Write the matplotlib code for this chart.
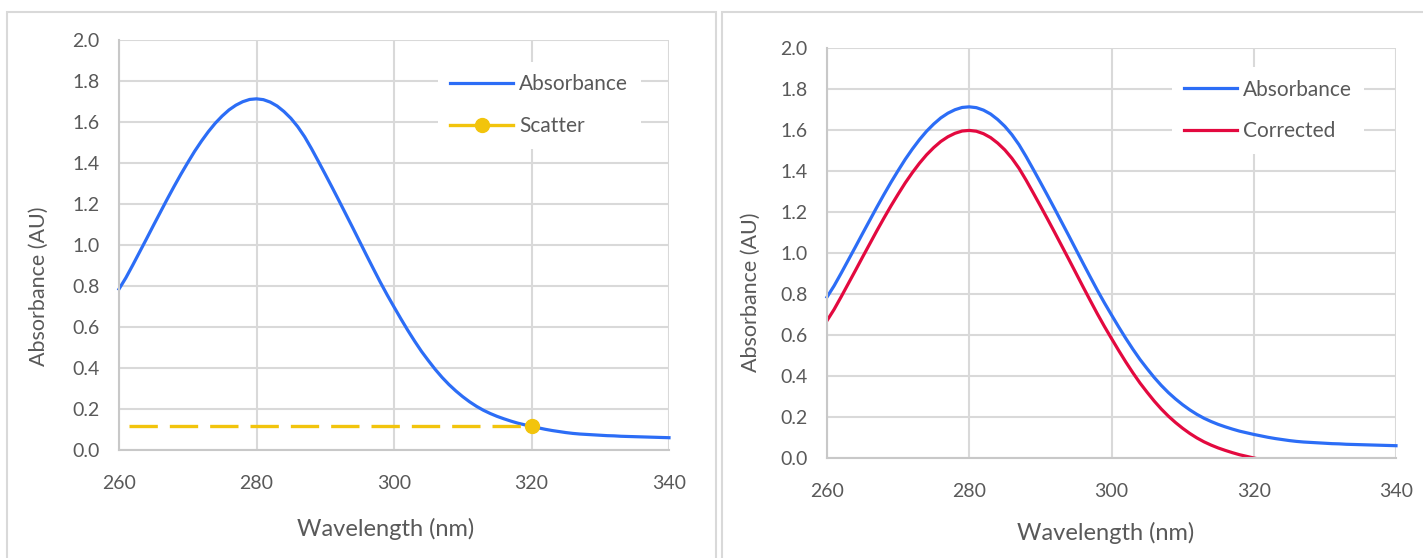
import numpy as np
import matplotlib.pyplot as plt
from matplotlib.patches import Rectangle

plt.rcParams['font.family'] = ['Lato', 'DejaVu Sans']

# values (1 nm steps)
wavelength = list(range(260, 341))
absorbance = [0.785, 0.840, 0.902, 0.966, 1.030, 1.095, 1.159, 1.223, 1.285, 1.345,
              1.402, 1.457, 1.507, 1.553, 1.594, 1.629, 1.659, 1.682, 1.699, 1.710,
              1.713, 1.709, 1.697, 1.678, 1.651, 1.618, 1.577, 1.528, 1.470, 1.408,
              1.345, 1.281, 1.216, 1.150, 1.084, 1.017, 0.950, 0.884, 0.819, 0.757,
              0.698, 0.640, 0.584, 0.531, 0.481, 0.436, 0.393, 0.354, 0.319, 0.288,
              0.260, 0.235, 0.213, 0.194, 0.178, 0.164, 0.152, 0.141, 0.131, 0.123,
              0.115, 0.108, 0.101, 0.095, 0.090, 0.085, 0.081, 0.078, 0.076, 0.074,
              0.072, 0.070, 0.069, 0.067, 0.066, 0.065, 0.064, 0.063, 0.062, 0.061,
              0.060]
corrected = [0.670, 0.725, 0.787, 0.851, 0.915, 0.980, 1.044, 1.108, 1.170, 1.230,
             1.287, 1.342, 1.392, 1.438, 1.479, 1.514, 1.544, 1.567, 1.584, 1.595,
             1.598, 1.594, 1.582, 1.563, 1.536, 1.503, 1.462, 1.413, 1.355, 1.293,
             1.230, 1.166, 1.101, 1.035, 0.969, 0.902, 0.835, 0.769, 0.704, 0.642,
             0.583, 0.525, 0.469, 0.416, 0.366, 0.321, 0.278, 0.239, 0.204, 0.173,
             0.145, 0.120, 0.098, 0.079, 0.063, 0.049, 0.037, 0.026, 0.016, 0.008,
             0.000, -0.007, -0.014, -0.020, -0.025, -0.030, -0.034, -0.037, -0.039, -0.041,
             -0.043, -0.045, -0.046, -0.048, -0.049, -0.050, -0.051, -0.052, -0.053, -0.054,
             -0.055]
scatter_x = [261.5, 320]
scatter_y = [0.115, 0.115]

xticks = [260, 280, 300, 320, 340]
yticks = [0.0, 0.2, 0.4, 0.6, 0.8, 1.0, 1.2, 1.4, 1.6, 1.8, 2.0]

BLUE = '#2C6DF6'
RED = '#E3093F'
YELLOW = '#F2C40C'
GRID = '#D9D9D9'
TXT = '#595959'

W, H = 1423, 558
fig = plt.figure(figsize=(W / 100, H / 100), dpi=100)

# panel borders
fig.add_artist(Rectangle((7 / W, -0.05), 709 / W, 1.05 - 12 / H, transform=fig.transFigure,
                         fill=False, edgecolor=GRID, linewidth=1.5))
fig.add_artist(Rectangle((722 / W, -0.05), 0.6, 1.05 - 12 / H, transform=fig.transFigure,
                         fill=False, edgecolor=GRID, linewidth=1.5))


def style(ax, xpad, ylab_xy, xlab_xy):
    ax.set_xlim(260, 340)
    ax.set_ylim(0, 2.0)
    ax.set_xticks(xticks)
    ax.set_yticks(yticks)
    ax.set_yticklabels([f'{v:.1f}' for v in yticks])
    ax.grid(True, color=GRID, linewidth=1.5)
    ax.set_axisbelow(True)
    for s in ['top', 'right']:
        ax.spines[s].set_visible(False)
    for s in ['left', 'bottom']:
        ax.spines[s].set_color('#C8C8C8')
        ax.spines[s].set_linewidth(1.5)
    ax.tick_params(length=0, labelsize=14, labelcolor=TXT)
    ax.tick_params(axis='x', pad=xpad)
    ax.tick_params(axis='y', pad=14)
    ax.set_ylabel('Absorbance (AU)', fontsize=15.5, color=TXT)
    ax.set_xlabel('Wavelength (nm)', fontsize=17, color=TXT)
    ax.yaxis.set_label_coords(*ylab_xy)
    ax.xaxis.set_label_coords(*xlab_xy)


leg_kw = dict(loc='upper left', fontsize=15, frameon=True, facecolor='white',
              edgecolor='none', framealpha=1, handletextpad=0.3, labelspacing=1.05,
              borderpad=0.6, fancybox=False, labelcolor=TXT)

# left chart
ax1 = fig.add_axes([119 / W, 1 - 450 / H, 550 / W, 410 / H])
ax1.plot(wavelength, absorbance, color=BLUE, linewidth=2.3, label='Absorbance', clip_on=False)
ax1.plot(scatter_x, scatter_y, color=YELLOW, linewidth=2.4, dashes=(8.5, 3.6), zorder=3)
ax1.plot(scatter_x[-1:], scatter_y[-1:], 'o', color=YELLOW, markersize=10, zorder=4)
style(ax1, 18, (-0.128, 0.40), (0.484, -0.165))
h_abs = plt.Line2D([], [], color=BLUE, linewidth=2.3)
h_sca = plt.Line2D([], [], color=YELLOW, linewidth=2.4, marker='o', markersize=10)
ax1.legend([h_abs, h_sca], ['Absorbance', 'Scatter'], bbox_to_anchor=(0.561, 0.972),
           handlelength=3.0, **leg_kw)

# right chart
ax2 = fig.add_axes([827 / W, 1 - 458 / H, 569 / W, 410 / H])
ax2.plot(wavelength, absorbance, color=BLUE, linewidth=2.3, label='Absorbance', clip_on=False)
ax2.plot(wavelength, corrected, color=RED, linewidth=2.3, label='Corrected')
style(ax2, 18, (-0.117, 0.405), (0.489, -0.155))
ax2.legend(bbox_to_anchor=(0.588, 0.979), handlelength=2.5, **leg_kw)

fig.savefig('out.png', dpi=100)
